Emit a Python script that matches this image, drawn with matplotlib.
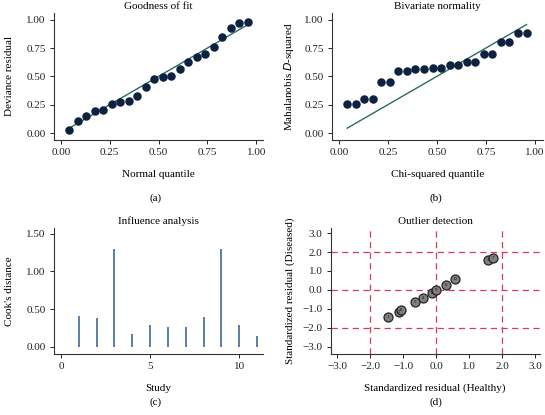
import matplotlib
matplotlib.use('Agg')
import matplotlib.pyplot as plt
import numpy as np

plt.rcParams['font.family'] = ['Liberation Serif', 'DejaVu Serif']
plt.rcParams['font.size'] = 8

# (a) goodness of fit
normal_q = [0.043, 0.087, 0.130, 0.174, 0.217, 0.261, 0.304, 0.348, 0.391, 0.435, 0.478,
            0.522, 0.565, 0.609, 0.652, 0.696, 0.739, 0.783, 0.826, 0.870, 0.913, 0.957]
deviance = [0.03, 0.11, 0.15, 0.195, 0.205, 0.255, 0.27, 0.28, 0.325, 0.41, 0.48,
            0.495, 0.50, 0.565, 0.625, 0.675, 0.70, 0.755, 0.85, 0.925, 0.97, 0.98]
ref_a = [0.043, 0.957]

# (b) bivariate normality
chi_q = normal_q
mahal = [0.256, 0.253, 0.297, 0.297, 0.45, 0.45, 0.544, 0.544, 0.562, 0.562, 0.574,
         0.574, 0.603, 0.603, 0.63, 0.63, 0.694, 0.694, 0.806, 0.806, 0.882, 0.882]
ref_b = [0.043, 0.957]

# (c) influence analysis
study = list(range(1, 12))
cooks = [0.41, 0.376, 1.305, 0.168, 0.292, 0.257, 0.257, 0.40, 1.296, 0.292, 0.142]

# (d) outlier detection
res_healthy = [-1.46, -1.13, -1.06, -0.64, -0.40, -0.13, 0.0, 0.30, 0.58, 1.57, 1.72]
res_diseased = [-1.45, -1.18, -1.06, -0.62, -0.42, -0.16, 0.0, 0.28, 0.56, 1.59, 1.69]
res_labels = ['1', '2', '8', '5', '4', '11', '9', '6', '10', '3', '7']

dot_col = '#0d2240'
line_col = '#2e6b5e'
bar_col = '#5b7ea6'
red_col = '#d63c5a'

fig = plt.figure(figsize=(5.45, 4.15), dpi=100)
ax_a = fig.add_axes([0.099, 0.663, 0.384, 0.306])
ax_b = fig.add_axes([0.609, 0.663, 0.387, 0.306])
ax_c = fig.add_axes([0.099, 0.147, 0.384, 0.304])
ax_d = fig.add_axes([0.607, 0.147, 0.383, 0.304])


def style(ax, title, xlabel, ylabel, ylpad=9):
    ax.spines['top'].set_visible(False)
    ax.spines['right'].set_visible(False)
    for s in ('left', 'bottom'):
        ax.spines[s].set_linewidth(0.8)
        ax.spines[s].set_color('#333333')
    ax.tick_params(length=3, width=0.7, labelsize=8, colors='#222222', pad=3)
    ax.set_title(title, fontsize=8, pad=3)
    ax.set_xlabel(xlabel, fontsize=8, labelpad=9)
    ax.set_ylabel(ylabel, fontsize=8, labelpad=ylpad)


fmt2 = matplotlib.ticker.FormatStrFormatter('%.2f')

# panel a
ax_a.plot(ref_a, ref_a, color=line_col, lw=1.0)
ax_a.scatter(normal_q, deviance, s=26, color=dot_col, zorder=3)
ax_a.set_xlim(-0.035, 1.035)
ax_a.set_ylim(-0.06, 1.06)
ax_a.set_xticks([0, 0.25, 0.5, 0.75, 1.0])
ax_a.set_yticks([0, 0.25, 0.5, 0.75, 1.0])
ax_a.xaxis.set_major_formatter(fmt2)
ax_a.yaxis.set_major_formatter(fmt2)
style(ax_a, 'Goodness of fit', 'Normal quantile', 'Deviance residual')

# panel b
ax_b.plot(ref_b, ref_b, color=line_col, lw=1.0)
ax_b.scatter(chi_q, mahal, s=26, color=dot_col, zorder=3)
ax_b.set_xlim(-0.035, 1.04)
ax_b.set_ylim(-0.06, 1.06)
ax_b.set_xticks([0, 0.25, 0.5, 0.75, 1.0])
ax_b.set_yticks([0, 0.25, 0.5, 0.75, 1.0])
ax_b.xaxis.set_major_formatter(fmt2)
ax_b.yaxis.set_major_formatter(fmt2)
style(ax_b, 'Bivariate normality', 'Chi-squared quantile', 'Mahalanobis $D$-squared', ylpad=6)

# panel c
ax_c.vlines(study, 0, cooks, color=bar_col, lw=1.4)
ax_c.set_xlim(-0.39, 11.35)
ax_c.set_ylim(-0.097, 1.58)
ax_c.set_xticks([0, 5, 10])
ax_c.set_yticks([0, 0.5, 1.0, 1.5])
ax_c.yaxis.set_major_formatter(fmt2)
style(ax_c, 'Influence analysis', 'Study', "Cook's distance")

# panel d
for v in (-2, 0, 2):
    ax_d.axvline(v, color=red_col, lw=0.9, ls=(0, (5, 3.5)), zorder=1)
    ax_d.axhline(v, color=red_col, lw=0.9, ls=(0, (5, 3.5)), zorder=1)
ax_d.scatter(res_healthy, res_diseased, s=42, facecolor='#808080', edgecolor='#222222',
             linewidth=0.9, zorder=3)
for xh, yd, lab in zip(res_healthy, res_diseased, res_labels):
    ax_d.text(xh, yd, lab, fontsize=3.5, ha='center', va='center', color='#111111', zorder=4)
ax_d.set_xlim(-3.19, 3.13)
ax_d.set_ylim(-3.39, 3.28)
ax_d.set_xticks(np.arange(-3, 4, 1))
ax_d.set_yticks(np.arange(-3, 4, 1))
fmt1 = matplotlib.ticker.FuncFormatter(lambda v, p: ('%.1f' % v).replace('-', '\u2212'))
ax_d.xaxis.set_major_formatter(fmt1)
ax_d.yaxis.set_major_formatter(fmt1)
style(ax_d, 'Outlier detection', 'Standardized residual (Healthy)', 'Standardized residual (Diseased)', ylpad=5)

fig.text(0.2855, 1 - 198 / 415, '(a)', ha='center', va='center', fontsize=8)
fig.text(0.800, 1 - 198 / 415, '(b)', ha='center', va='center', fontsize=8)
fig.text(0.2855, 1 - 402 / 415, '(c)', ha='center', va='center', fontsize=8)
fig.text(0.800, 1 - 402 / 415, '(d)', ha='center', va='center', fontsize=8)

fig.savefig('out.png', dpi=100)
